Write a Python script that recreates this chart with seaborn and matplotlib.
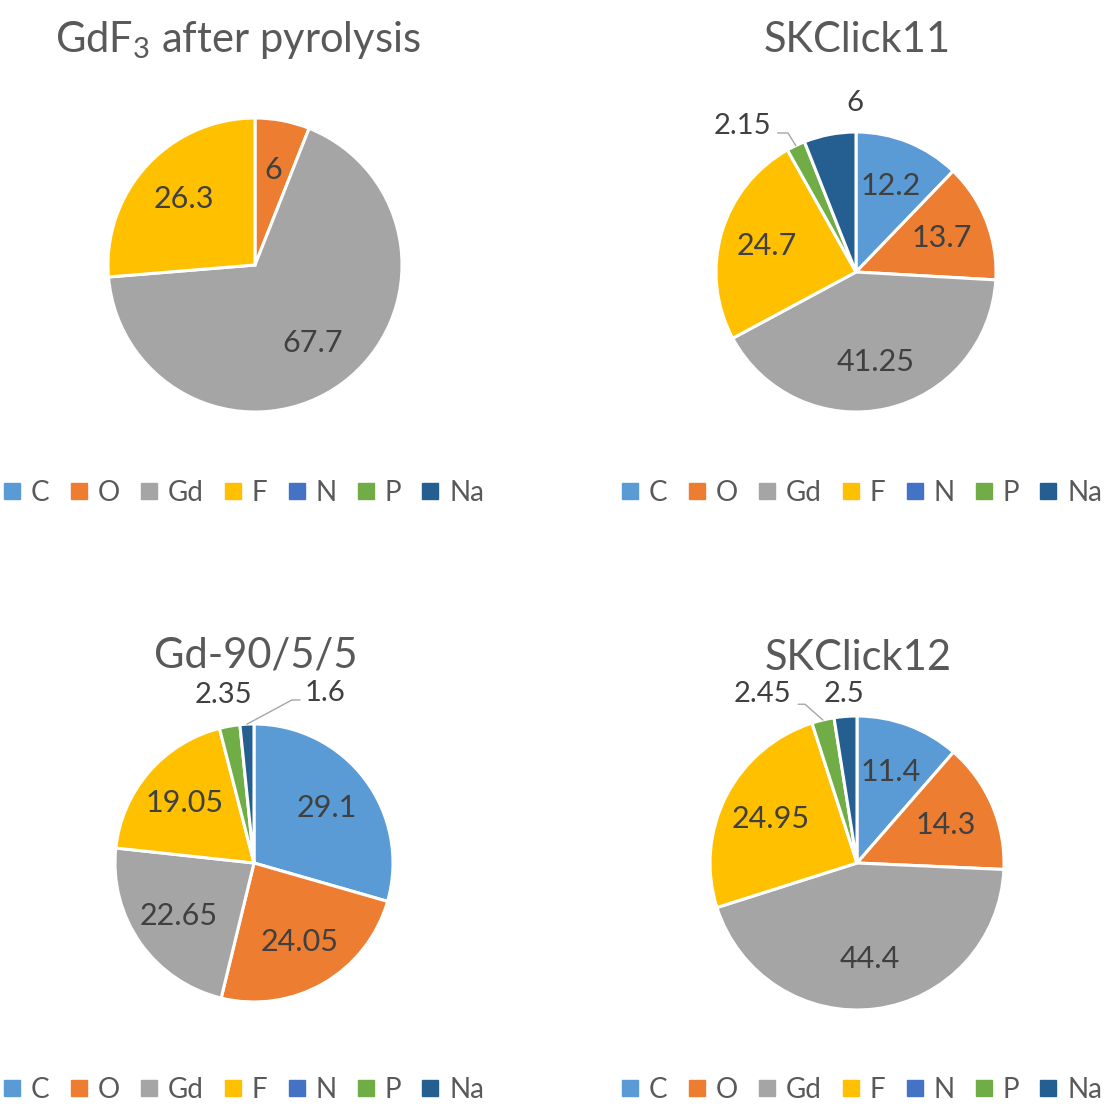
import numpy as np
import matplotlib
matplotlib.use("Agg")
import matplotlib.pyplot as plt
from matplotlib.lines import Line2D
import seaborn as sns

# ---------------- data ----------------
elements = ["C", "O", "Gd", "F", "N", "P", "Na"]
gdf3_values = [0, 6, 67.7, 26.3, 0, 0, 0]
skclick11_values = [12.2, 13.7, 41.25, 24.7, 0, 2.15, 6]
gd90_values = [29.1, 24.05, 22.65, 19.05, 0, 2.35, 1.6]
skclick12_values = [11.4, 14.3, 44.4, 24.95, 0, 2.45, 2.5]
titles = ["GdF$_\\mathregular{3}$ after pyrolysis", "SKClick11", "Gd-90/5/5", "SKClick12"]

colors = ["#5B9BD5", "#ED7D31", "#A5A5A5", "#FFC000", "#4472C4", "#70AD47", "#255E91"]

# ---------------- style ----------------
sns.set_theme(style="white")
plt.rcParams["font.family"] = ["Lato", "DejaVu Sans"]
plt.rcParams["mathtext.fontset"] = "custom"
plt.rcParams["mathtext.rm"] = "Lato"
plt.rcParams["mathtext.it"] = "Lato:italic"
plt.rcParams["mathtext.bf"] = "Lato:bold"
palette = sns.color_palette(colors)

W, H = 1118, 1108
fig = plt.figure(figsize=(W / 100, H / 100), dpi=100)
fig.patch.set_facecolor("white")

TXT = "#595959"
LBL = "#404040"

# layout: (centre x px, centre y px, radius px, title x px, title y px, legend centre x, legend y)
layouts = [
    (255, 265, 147, 238, 40, 244, 493),
    (856, 272, 140, 857, 40, 862, 493),
    (254, 863, 139, 256, 656, 244, 1090),
    (857, 863, 147, 858, 658, 862, 1090),
]
# outer label placement (in pie-radius units): element index -> (x, y, ha, leader points)
outer = [
    {},
    {6: (-0.01, 1.21, "center", None),
     5: (-0.605, 1.04, "right", [(-0.56, 0.993), (-0.486, 0.993)])},
    {5: (-0.22, 1.21, "center", None),
     6: (0.365, 1.223, "left", [(0.331, 1.173), (0.273, 1.173)])},
    {6: (-0.09, 1.15, "center", None),
     5: (-0.45, 1.15, "right", [(-0.40, 1.08), (-0.354, 1.08)])},
]

all_values = [gdf3_values, skclick11_values, gd90_values, skclick12_values]

for k, (vals, title, lay) in enumerate(zip(all_values, titles, layouts)):
    cx, cy, r, tx, ty, lx, ly = lay
    ax = fig.add_axes([(cx - r) / W, 1 - (cy + r) / H, 2 * r / W, 2 * r / H])
    idx = [i for i, v in enumerate(vals) if v > 0]
    v = [vals[i] for i in idx]
    cols = [palette[i] for i in idx]
    wedges, _ = ax.pie(v, colors=cols, startangle=90, counterclock=False, radius=1,
                       wedgeprops=dict(edgecolor="white", linewidth=2.2))
    ax.set_xlim(-1, 1)
    ax.set_ylim(-1, 1)
    ax.set_aspect("equal")
    ax.axis("off")
    for w, i in zip(wedges, idx):
        mid = np.deg2rad((w.theta1 + w.theta2) / 2)
        lab = f"{vals[i]:g}"
        if i in outer[k]:
            x, y, ha, leader = outer[k][i]
            ax.text(x, y, lab, ha=ha, va="center", fontsize=21, color=LBL, clip_on=False)
            if leader is not None:
                pts = leader + [(np.cos(mid), np.sin(mid))]
                ax.plot([p[0] for p in pts], [p[1] for p in pts], color="#A6A6A6",
                        lw=1.0, clip_on=False)
        else:
            ax.text(0.66 * np.cos(mid), 0.66 * np.sin(mid), lab, ha="center", va="center",
                    fontsize=22, color=LBL)
    fig.text(tx / W, 1 - ty / H, title, ha="center", va="center", fontsize=30, color=TXT)

    handles = [Line2D([0], [0], marker="s", linestyle="none", markersize=11,
                      markerfacecolor=palette[i], markeredgecolor=palette[i])
               for i in range(len(elements))]
    leg = fig.legend(handles, elements, loc="center", bbox_to_anchor=(lx / W, 1 - ly / H),
                     ncol=7, frameon=False, fontsize=20, handlelength=0.6,
                     handletextpad=0.38, columnspacing=0.75, borderpad=0)
    for t in leg.get_texts():
        t.set_color(TXT)

fig.savefig("out.png", dpi=100, facecolor="white")
